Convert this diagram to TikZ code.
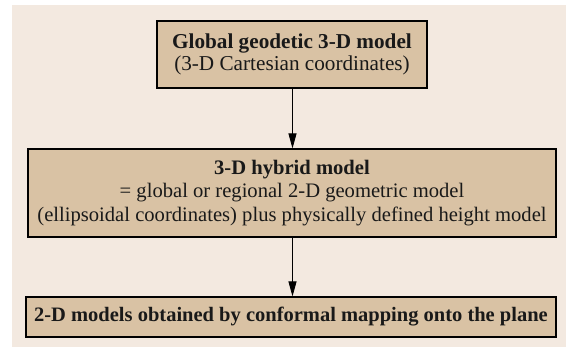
\documentclass[tikz,border=0pt]{standalone}
\usepackage{fontspec}
\setmainfont{Liberation Serif}
\usetikzlibrary{arrows.meta}
\definecolor{bgc}{HTML}{F3E9E0}
\definecolor{boxc}{HTML}{D9C2A4}
\tikzset{
  modelbox/.style={draw=black, line width=1.1pt, fill=boxc, rectangle, align=center, inner sep=0pt, text=black!90},
  flowarrow/.style={line width=0.9pt, -{Triangle[length=15pt,width=8pt]}}
}
\begin{document}
\begin{tikzpicture}[x=1pt,y=-1pt]
\useasboundingbox (0,0) rectangle (566,347);
\fill[bgc] (12,5) rectangle (566,347);
\node[modelbox, minimum width=270pt, minimum height=67pt, font=\fontsize{21.2}{21.5}\selectfont] (global) at (292,54.5)
  {\textbf{Global geodetic 3-D model}\\(3-D Cartesian coordinates)};
\node[modelbox, minimum width=528pt, minimum height=88pt, font=\fontsize{20.6}{23.5}\selectfont] (hybrid) at (292,193)
  {\textbf{3-D hybrid model}\\= global or regional 2-D geometric model\\(ellipsoidal coordinates) plus physically defined height model};
\node[modelbox, minimum width=530pt, minimum height=40pt, font=\fontsize{20.5}{23}\selectfont] (plane) at (291,317)
  {\textbf{2-D models obtained by conformal mapping onto the plane}};
\draw[flowarrow] (global.south -| 292.5,0) -- (hybrid.north -| 292.5,0);
\draw[flowarrow] (hybrid.south -| 292.5,0) -- (plane.north -| 292.5,0);
\end{tikzpicture}
\end{document}
